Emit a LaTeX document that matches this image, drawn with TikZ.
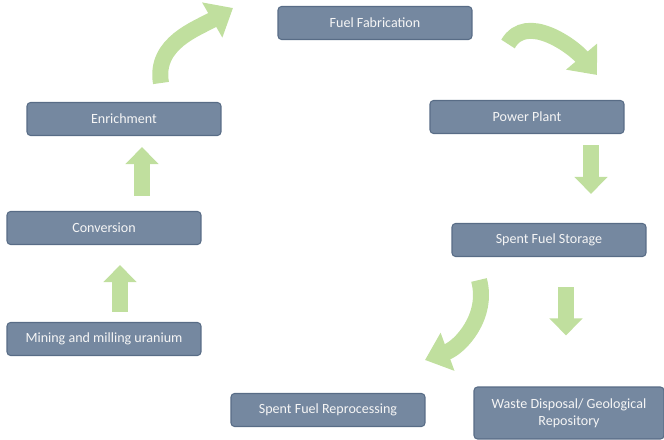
\documentclass[tikz,border=0pt]{standalone}
\usepackage{fontspec}
\setmainfont{Carlito}
\usepackage{tikz}
\usetikzlibrary{arrows.meta,calc}

\definecolor{boxfill}{RGB}{117,136,160}
\definecolor{boxline}{RGB}{88,108,134}
\definecolor{leaf}{RGB}{192,223,158}

\begin{document}
\begin{tikzpicture}[
  x=0.02cm, y=0.02cm,
  every node/.style={font=\fontsize{8}{9.8}\selectfont},
  stage/.style={rectangle, draw=boxline, fill=boxfill, rounded corners=2pt,
    line width=0.6pt, minimum width=3.88cm, minimum height=0.66cm,
    align=center, text=white!92!gray, inner sep=1pt},
  uparrow/.style={draw=leaf, line width=0.34cm,
    -{Triangle[length=0.34cm, width=0.64cm]}},
  swoosh/.style={draw=leaf, line width=0.32cm,
    -{Triangle[length=0.48cm, width=0.78cm]}},
]
\useasboundingbox (0,0) rectangle (664,440);

% Left column: front end of the cycle
\node[stage] (mine) at (104,101) {Mining and milling uranium};
\node[stage] (conv) at (104,212) {Conversion};
\node[stage] (enrich) at (124,321) {Enrichment};

% Top and right column
\node[stage] (fab) at (375,417) {Fuel Fabrication};
\node[stage] (plant) at (527,323) {Power Plant};
\node[stage] (store) at (549,200) {Spent Fuel Storage};

% Bottom row: back end
\node[stage] (repro) at (328,30) {Spent Fuel Reprocessing};
\node[stage, minimum width=3.8cm, minimum height=1.04cm] (waste) at (569,27)
  {Waste Disposal/ Geological\\Repository};

% Straight block arrows
\draw[uparrow] ($(mine.north)+(16,10)$) -- ($(conv.south)+(16,-20)$);
\draw[uparrow] ($(conv.north)+(38,15)$) -- ($(enrich.south)+(18,-11)$);
\draw[uparrow] ($(plant.south)+(64,-11)$) -- ($(store.north)+(42,29)$);
\draw[uparrow] ($(store.south)+(17,-30)$) -- ($(waste.north)+(-3,51)$);

% Curved arrows
\coordinate (c1a) at (161,357);
\coordinate (c1b) at (233,432);
\coordinate (c2a) at (508,396);
\coordinate (c2b) at (597,365);
\coordinate (c3a) at (479,160);
\coordinate (c3b) at (425,80);
\draw[swoosh] (c1a) to[out=100, in=210] (c1b);
\draw[swoosh] (c2a) to[out=60, in=130] (c2b);
\draw[swoosh] (c3a) to[out=-75, in=20] (c3b);

\end{tikzpicture}
\end{document}
